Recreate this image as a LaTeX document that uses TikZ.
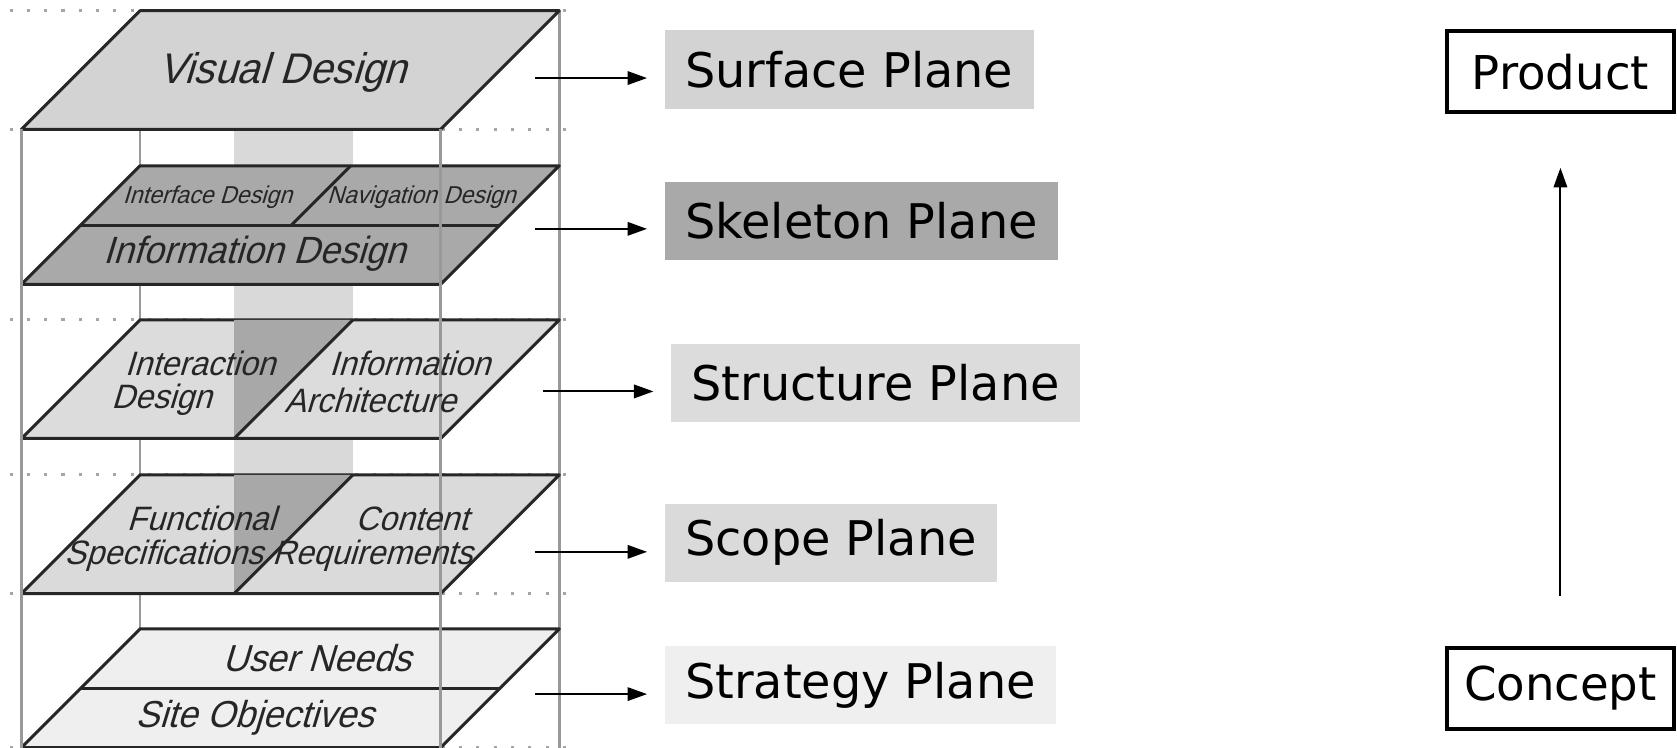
\documentclass[tikz,border=0pt]{standalone}
\usepackage{fontspec}
\setmainfont{DejaVu Sans}
\newfontfamily\layerfont{Liberation Sans}[FakeStretch=0.95, FakeSlant=0.3]
\usetikzlibrary{arrows.meta, positioning}

\definecolor{visgray}{HTML}{D3D3D3}
\definecolor{skelgray}{HTML}{A9A9A9}
\definecolor{structgray}{HTML}{DCDCDC}
\definecolor{scopegray}{HTML}{DADADA}
\definecolor{strategygray}{HTML}{EFEFEF}
\definecolor{bandgray}{HTML}{D9D9D9}
\definecolor{darkband}{HTML}{A8A8A8}

\tikzset{
	rim/.style={draw=black!85, line width=0.8pt, line join=round},
	wire/.style={draw=black!40, line width=0.7pt},
	dots/.style={draw=black!35, line width=0.8pt, dash pattern=on 0.8pt off 3.8pt},
	tag/.style={text=black!85, inner sep=0pt},
	planebox/.style={anchor=west, minimum height=7.3mm, inner xsep=1.9mm, inner ysep=0pt, font=\fontsize{12.7}{15}\selectfont},
	stagebox/.style={draw, line width=1.1pt, minimum width=21.2mm, minimum height=7.6mm, inner sep=0pt, font=\fontsize{12.4}{15}\selectfont},
	pointer/.style={-{Triangle[length=5.2pt,width=3.6pt]}, line width=0.5pt, shorten >=1.6mm}
}

\begin{document}
\begin{tikzpicture}[x=0.1mm, y=-0.1mm]

	\useasboundingbox (0,0) rectangle (1568,699);

	% guide lines and back edges of the box
	\foreach \y in {10,121,299,444,555,699}
		\draw[dots] (9,\y) -- (530,\y);
	\draw[wire] (131,121) -- (131,588);
	\draw[wire] (523,10) -- (523,699);
	\fill[bandgray] (219,121) rectangle (330,555);

	% surface
	\filldraw[rim, fill=visgray] (20,121) -- (412,121) -- (523,10) -- (131,10) -- cycle;

	% skeleton
	\filldraw[rim, fill=skelgray] (20,266) -- (412,266) -- (523,155) -- (131,155) -- cycle;
	\draw[rim] (75.5,210.5) -- (467.5,210.5);
	\draw[rim] (272.5,210.5) -- (328,155);

	% structure
	\filldraw[rim, fill=structgray] (20,410) -- (412,410) -- (523,299) -- (131,299) -- cycle;
	\fill[darkband] (219,299) -- (330,299) -- (219,410) -- cycle;
	\draw[rim] (219,410) -- (330,299);

	% scope
	\filldraw[rim, fill=scopegray] (20,555) -- (412,555) -- (523,444) -- (131,444) -- cycle;
	\fill[darkband] (219,444) -- (330,444) -- (219,555) -- cycle;
	\draw[rim] (219,555) -- (330,444);

	% strategy
	\filldraw[rim, fill=strategygray] (20,699) -- (412,699) -- (523,588) -- (131,588) -- cycle;
	\draw[rim] (75.5,643.5) -- (467.5,643.5);

	% front edges
	\draw[wire] (20,121) -- (20,699);
	\draw[wire] (412,121) -- (412,699);

	\node[tag, font=\layerfont\fontsize{11.4}{13}\selectfont]	(visual)	at (264,68)		{Visual Design};
	\node[tag, font=\layerfont\fontsize{6.5}{8}\selectfont]		(iface)		at (194,184)	{Interface Design};
	\node[tag, font=\layerfont\fontsize{6.5}{8}\selectfont]		(nav)		at (394,184)	{Navigation Design};
	\node[tag, font=\layerfont\fontsize{10.1}{12}\selectfont]	(infodes)	at (238,237)	{Information Design};
	\node[tag, font=\layerfont\fontsize{9}{11}\selectfont]		(ixa)		at (187,340)	{Interaction};
	\node[tag, font=\layerfont\fontsize{9}{11}\selectfont]		(ixb)		at (151,374)	{Design};
	\node[tag, font=\layerfont\fontsize{9}{11}\selectfont]		(iaa)		at (383,340)	{Information};
	\node[tag, font=\layerfont\fontsize{9}{11}\selectfont]		(iab)		at (346,374)	{Architecture};
	\node[tag, font=\layerfont\fontsize{9}{11}\selectfont]		(funa)		at (188,485)	{Functional};
	\node[tag, font=\layerfont\fontsize{9}{11}\selectfont]		(funb)		at (153,520)	{Specifications};
	\node[tag, font=\layerfont\fontsize{9}{11}\selectfont]		(cona)		at (385,485)	{Content};
	\node[tag, font=\layerfont\fontsize{9}{11}\selectfont]		(conb)		at (348,520)	{Requirements};
	\node[tag, font=\layerfont\fontsize{10}{12}\selectfont]		(user)		at (296,615)	{User Needs};
	\node[tag, font=\layerfont\fontsize{10}{12}\selectfont]		(site)		at (238,671)	{Site Objectives};

	% plane names
	\node[planebox, fill=visgray]		(surface)	at (621,65)		{Surface Plane};
	\node[planebox, fill=skelgray]		(skeleton)	at (621,206.5)	{Skeleton Plane};
	\node[planebox, fill=structgray]	(structure)	at (627,358)	{Structure Plane};
	\node[planebox, fill=scopegray]		(scope)		at (621,507.5)	{Scope Plane};
	\node[planebox, fill=strategygray]	(strategy)	at (621,640.5)	{Strategy Plane};

	\coordinate (p1) at (500,73);
	\coordinate (p2) at (500,214);
	\coordinate (p3) at (508,366);
	\coordinate (p4) at (500,516);
	\coordinate (p5) at (500,649);

	\draw[pointer] (p1) -- (p1 -| surface.west);
	\draw[pointer] (p2) -- (p2 -| skeleton.west);
	\draw[pointer] (p3) -- (p3 -| structure.west);
	\draw[pointer] (p4) -- (p4 -| scope.west);
	\draw[pointer] (p5) -- (p5 -| strategy.west);

	% concept to product
	\node[stagebox]	(product)	at (1459,67)	{Product};
	\node[stagebox]	(concept)	at (1459,643.5)	{Concept};
	\draw[pointer, shorten <=4.6mm, shorten >=5mm] (concept) -- (product);

\end{tikzpicture}
\end{document}
